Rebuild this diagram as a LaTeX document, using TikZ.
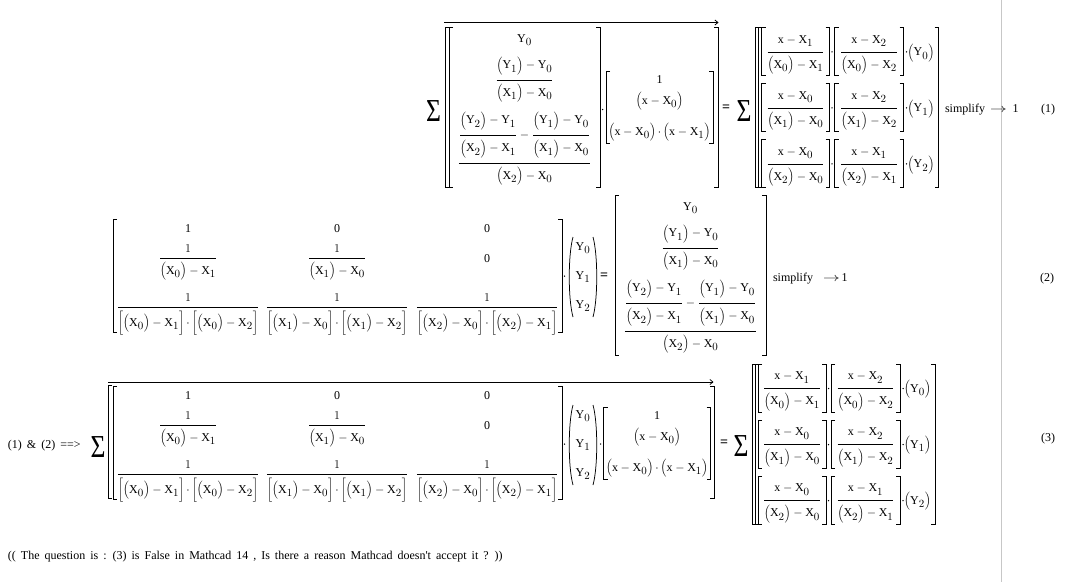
\documentclass[tikz,border=0pt]{standalone}
\usepackage{fontspec}
\setmainfont{Liberation Serif}
\newfontfamily\plainserif{Liberation Serif}
\usepackage{graphicx}
\usetikzlibrary{arrows.meta}
\DeclareMathSizes{12}{12}{11}{8}
\delimitershortfall=-1pt
\newcommand\sbs[1]{\raisebox{-1.6pt}{$\scriptstyle#1$}}
\newcommand\xX[1]{\mathrm{X}_{\sbs{#1}}}
\newcommand\yY[1]{\mathrm{Y}_{\sbs{#1}}}
\newcommand\pX[1]{\left(\mathrm{X}_{\sbs{#1}}\right)}
\newcommand\pY[1]{\left(\mathrm{Y}_{\sbs{#1}}\right)}
\newcommand\xm[1]{\left(\mathrm{x}-\mathrm{X}_{\sbs{#1}}\right)}
\newcommand\dt{\mathord{\cdot}}
\newcommand\mfrac[2]{{\setbox0=\hbox{$\displaystyle#1$}\setbox2=\hbox{$\displaystyle#2$}%
  \copy0\vrule width0pt depth\dimexpr\dp0+4pt\relax
  \over
  \vrule width0pt height\dimexpr\ht2+3pt\relax\copy2}}
\newcommand\Mden[3]{\mfrac{1}{\left[\pX{#1}-\xX{#2}\right]\dt\left[\pX{#1}-\xX{#3}\right]}}
% drawing helpers
\newcommand\LB[4][4]{\draw[brk] (#2+#1,#3) -| (#2,#4) -- (#2+#1,#4);}
\newcommand\RB[4][4]{\draw[brk] (#2-#1,#3) -| (#2,#4) -- (#2-#1,#4);}
\newcommand\Dot[2]{\fill (#1,#2) circle[radius=0.75pt];}
\newcommand\Par[4]{%
  \draw[brk] (#1+5,#3) .. controls (#1,#3+18) and (#1,#4-18) .. (#1+5,#4);
  \draw[brk] (#2-5,#3) .. controls (#2,#3+18) and (#2,#4-18) .. (#2-5,#4);}
\newcommand\Ablock[1]{%
  \LB{0}{0}{160}\RB{151}{0}{160}
  \node[m] (#1a) at (75.5,15) {$\displaystyle\yY0$};
  \node[m] (#1b) at (75.5,56) {$\displaystyle\mfrac{\pY1-\yY0}{\pX1-\xX0}$};
  \node[m] (#1c) at (75.5,139) {$\displaystyle\mfrac{\mfrac{\pY2-\yY1}{\pX2-\xX1}-\mfrac{\pY1-\yY0}{\pX1-\xX0}}{\pX2-\xX0}$};}
\newcommand\Bblock[1]{%
  \LB{0}{0}{72}\RB{107}{0}{72}
  \node[m] (#1a) at (53.5,12) {1};
  \node[m] (#1b) at (53.5,33.5) {$\displaystyle\xm0$};
  \node[m] (#1c) at (53.5,64.5) {$\displaystyle\xm0\dt\xm1$};}
\newcommand\Mblock[1]{%
  \LB{113}{0}{113}\RB{562}{0}{113}
  \node[m] (#1a1) at (188,13) {1};
  \node[m] (#1a2) at (337,13) {0};
  \node[m] (#1a3) at (487,13) {0};
  \node[m] (#1b1) at (188,42) {$\displaystyle\mfrac{1}{\pX0-\xX1}$};
  \node[m] (#1b2) at (337,42) {$\displaystyle\mfrac{1}{\pX1-\xX0}$};
  \node[m] (#1b3) at (487,43) {0};
  \node[m] (#1c1) at (188,91) {$\displaystyle\Mden012$};
  \node[m] (#1c2) at (337,91) {$\displaystyle\Mden102$};
  \node[m] (#1c3) at (487,91) {$\displaystyle\Mden201$};}
\newcommand\Yvec[1]{%
  \Par{568}{598}{0}{80}
  \node[m] (#1a) at (583,13) {$\yY0$};
  \node[m] (#1b) at (583,42) {$\yY1$};
  \node[m] (#1c) at (583,71) {$\yY2$};}
\newcommand\Crow[5]{%
  \LB{6}{#2}{#2+48}\RB{74}{#2}{#2+48}\LB{79}{#2}{#2+48}\RB{148}{#2}{#2+48}
  \node[m] (#1f) at (40,#2+27.5) {$\displaystyle#3$};
  \node[m] (#1g) at (113.5,#2+27.5) {$\displaystyle#4$};
  \Dot{76.5}{#2+24.5}\Dot{151}{#2+24.5}
  \node[m] (#1y) at (165.5,#2+28.5) {$\displaystyle\pY{#5}$};}
\newcommand\Cblock[1]{%
  \LB[7]{0}{0}{160}\draw[brk] (3,0) -- (3,160);\RB{183}{0}{160}
  \Crow{#1a}{0}{\mfrac{\mathrm{x}-\xX1}{\pX0-\xX1}}{\mfrac{\mathrm{x}-\xX2}{\pX0-\xX2}}{0}
  \Crow{#1b}{56}{\mfrac{\mathrm{x}-\xX0}{\pX1-\xX0}}{\mfrac{\mathrm{x}-\xX2}{\pX1-\xX2}}{1}
  \Crow{#1c}{112}{\mfrac{\mathrm{x}-\xX0}{\pX2-\xX0}}{\mfrac{\mathrm{x}-\xX1}{\pX2-\xX1}}{2}}
\begin{document}
\begin{tikzpicture}[x=1pt,y=-1pt,
  every node/.style={inner sep=0pt,outer sep=0pt,font=\fontsize{12}{14}\selectfont},
  brk/.style={draw=black,line width=0.75pt},
  vec/.style={draw=black,line width=0.75pt,-{Straight Barb[length=3pt,width=5pt]}},
  m/.style={anchor=base},
  lbl/.style={anchor=base west},
  sig/.style={font=\fontsize{32}{32}\selectfont},
  eqs/.style={font=\fontsize{14}{14}\selectfont\bfseries}]
\fill[white] (0,0) rectangle (1069,582);
\useasboundingbox (0,0) rectangle (1069,582);
% separator line
\coordinate (gt) at (1001.5,0); \coordinate (gb) at (1001.5,582);
\draw[draw=black!22,line width=1pt] (gt) -- (gb);

% ---------- equation (1)
\coordinate (o1s) at (444,22.5); \coordinate (o1e) at (718.5,22.5);
\draw[vec] (o1s) -- (o1e);
\node[sig] (s1) at (433.5,111) {\scalebox{0.8}[1]{Σ}};
\LB{445}{27}{187}\RB{718}{27}{187}
\begin{scope}[shift={(449,27)}]\Ablock{a1}\end{scope}
\Dot{602.7}{109.5}
\begin{scope}[shift={(606,71)}]\Bblock{b1}\end{scope}
\node[eqs] (e1) at (726,108) {=};
\node[sig] (s1r) at (744,111) {\scalebox{0.8}[1]{Σ}};
\begin{scope}[shift={(755.5,27.3)}]\Cblock{c1}\end{scope}
\node[lbl] (simp1) at (945,112) {simplify};
\node[lbl] (ar1) at (990,112) {\scalebox{1.4}[1]{$\rightarrow$}};
\node[lbl] (one1) at (1012.5,112) {1};
\node[lbl] (n1) at (1041,112) {(1)};

% ---------- equation (2)
\begin{scope}[shift={(0,219)}]\Mblock{m2}\end{scope}
\Dot{564.5}{276}
\begin{scope}[shift={(0,237)}]\Yvec{y2}\end{scope}
\node[eqs] (e2) at (604,276) {=};
\begin{scope}[shift={(615,195)}]\Ablock{a2}\end{scope}
\node[lbl] (simp2) at (773,281) {simplify};
\node[lbl] (ar2) at (823,281) {\scalebox{1.4}[1]{$\rightarrow$}};
\node[lbl] (one2) at (841.5,281) {1};
\node[m] (n2) at (1047,281) {(2)};

% ---------- equation (3)
\node[lbl] (imp) at (8,448) {\spaceskip=5pt\relax(1) \& (2) ==>};
\node[sig] (s3) at (98,447.5) {\scalebox{0.8}[1]{Σ}};
\coordinate (o3s) at (108,382); \coordinate (o3e) at (713.5,382);
\draw[vec] (o3s) -- (o3e);
\LB{108}{385.5}{498.5}\RB{714}{386}{498.5}
\begin{scope}[shift={(0,386)}]\Mblock{m3}\end{scope}
\Dot{564.5}{444}
\begin{scope}[shift={(0,405)}]\Yvec{y3}\end{scope}
\Dot{600.7}{444}
\begin{scope}[shift={(603.5,407)}]\Bblock{b3}\end{scope}
\node[eqs] (e3) at (724,443) {=};
\node[sig] (s3r) at (741,446) {\scalebox{0.8}[1]{Σ}};
\begin{scope}[shift={(752,364)}]\Cblock{c3}\end{scope}
\node[m] (n3) at (1048,441) {(3)};

% ---------- question
\node[lbl] (q) at (8,559.5) {\plainserif\spaceskip=5pt\relax (( The question is : (3) is False in Mathcad 14 , Is there a reason Mathcad doesn't accept it ? ))};
\end{tikzpicture}
\end{document}
